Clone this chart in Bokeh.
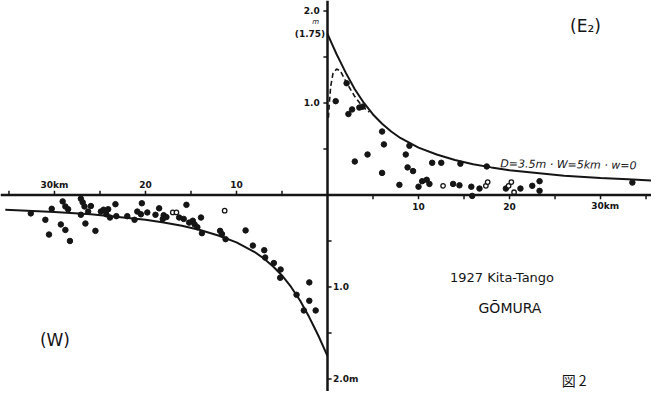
from bokeh.plotting import figure
from bokeh.models import Range1d, Label, Span
from bokeh.embed import file_html
from bokeh.resources import INLINE
from bokeh.core.properties import value

# ---------------- data (km, m) ----------------
# theoretical curve D=3.5m, W=5km, w=0
curve_e_x = [0, 0.5, 1, 1.5, 2, 3, 4, 5, 6, 7, 8, 10, 12, 14, 16, 18, 20, 23, 26, 30, 33, 36]
curve_e_y = [1.75, 1.64, 1.53, 1.43, 1.33, 1.15, 1.00, 0.875, 0.775, 0.69, 0.62, 0.515,
             0.44, 0.38, 0.335, 0.30, 0.27, 0.24, 0.21, 0.185, 0.17, 0.155]
curve_w_x = [0, -0.5, -1, -1.5, -2, -3, -4, -5, -6, -7, -8, -10, -12, -14, -16, -18, -20,
             -23, -26, -30, -33, -35.4]
curve_w_y = [-1.75, -1.64, -1.53, -1.43, -1.33, -1.15, -1.00, -0.875, -0.775, -0.69, -0.62,
             -0.515, -0.44, -0.38, -0.335, -0.30, -0.27, -0.24, -0.21, -0.185, -0.17, -0.16]
# dashed curve near the fault (east side)
dash_x = [0.1, 0.2, 0.35, 0.6, 1.0, 1.4, 2.1, 3.0, 3.85, 4.6]
dash_y = [0.84, 1.0, 1.18, 1.32, 1.37, 1.35, 1.22, 1.07, 0.96, 0.90]

# observed points, west side
w_x = [-32.6, -31.0, -30.6, -30.3, -29.3, -29.1, -28.8, -28.8, -28.5, -28.3, -27.1, -26.9,
       -26.7, -27.1, -26.6, -26.3, -26.0, -25.5, -24.9, -24.6, -24.3, -24.1, -23.9, -23.3,
       -23.2, -22.0, -21.2, -20.9, -20.4, -20.5, -19.8, -18.9, -18.5, -18.1, -18.0, -17.7,
       -16.3, -15.8, -15.5, -15.2, -14.8, -14.6, -14.3, -13.9, -13.8, -11.8, -11.6, -11.2,
       -9.0, -8.2, -6.95, -6.85, -5.9, -5.15, -5.2, -3.4, -2.0, -2.0, -2.6, -1.3]
w_y = [-0.20, -0.27, -0.43, -0.15, -0.32, -0.07, -0.125, -0.38, -0.155, -0.50, -0.04, -0.08,
       -0.125, -0.215, -0.31, -0.18, -0.12, -0.39, -0.18, -0.16, -0.21, -0.155, -0.245, -0.10,
       -0.23, -0.23, -0.27, -0.18, -0.09, -0.21, -0.19, -0.215, -0.145, -0.26, -0.22, -0.24,
       -0.245, -0.26, -0.107, -0.30, -0.28, -0.32, -0.35, -0.245, -0.415, -0.39, -0.425, -0.48,
       -0.385, -0.55, -0.60, -0.68, -0.74, -0.81, -0.90, -1.085, -0.95, -1.15, -1.255, -1.255]
w_open_x = [-17.0, -16.6, -11.3]
w_open_y = [-0.19, -0.19, -0.17]

# observed points, east side
e_x = [0.9, 2.3, 2.7, 3.5, 3.85, 2.1, 3.0, 4.4, 6.0, 6.2, 6.0, 7.9, 8.6, 9.0, 8.8, 9.4, 10.0,
       10.4, 10.9, 11.2, 11.5, 12.5, 13.8, 14.5, 14.6, 15.8, 15.9, 16.7, 17.5, 19.6, 21.2,
       22.5, 23.3, 23.3, 33.5]
e_y = [1.02, 0.88, 0.93, 0.95, 0.96, 1.215, 0.364, 0.44, 0.69, 0.55, 0.24, 0.11, 0.44, 0.535,
       0.30, 0.26, 0.09, 0.15, 0.165, 0.12, 0.35, 0.35, 0.12, 0.105, 0.34, 0.09, -0.01, 0.07,
       0.31, 0.07, 0.07, 0.10, 0.15, 0.045, 0.135]
e_open_x = [12.7, 17.4, 17.6, 19.9, 20.2, 20.5]
e_open_y = [0.10, 0.10, 0.14, 0.10, 0.14, 0.03]

# axis ticks / labels
x_ticks_w = [-35, -30, -25, -20, -15, -10, -5]
x_ticks_e = [5, 10, 15, 20, 25, 30, 35]
x_lab_w = [-30, -20, -10]
x_lab_w_txt = ["30km", "20", "10"]
x_lab_e = [10, 20, 30.5]
x_lab_e_txt = ["10", "20", "30km"]
y_ticks_up = [0.5, 1.0, 1.5, 2.0]
y_ticks_dn = [-0.5, -1.0, -1.5, -2.0]
y_lab_up = [2.0, 1.0]
y_lab_up_txt = ["2.0", "1.0"]
y_lab_dn = [-1.0, -2.0]
y_lab_dn_txt = ["1.0", "2.0m"]

INK = "#151515"

p = figure(width=651, height=391, x_range=Range1d(-35.93, 35.60), y_range=Range1d(-2.136, 2.114),
           output_backend="svg", toolbar_location=None, min_border=0,
           x_axis_type=None, y_axis_type=None)
p.outline_line_color = None
p.background_fill_color = "white"
p.border_fill_color = "white"

# cross axes
p.add_layout(Span(location=0, dimension="width", line_color=INK, line_width=2.5))
p.add_layout(Span(location=0, dimension="height", line_color=INK, line_width=2.5))

# ticks
tl_x = 0.45   # km
tl_y = 0.045  # m
p.segment(x0=x_ticks_w, y0=[0] * len(x_ticks_w), x1=x_ticks_w, y1=[tl_y] * len(x_ticks_w),
          line_color=INK, line_width=1.5)
p.segment(x0=x_ticks_e, y0=[0] * len(x_ticks_e), x1=x_ticks_e, y1=[-tl_y] * len(x_ticks_e),
          line_color=INK, line_width=1.5)
p.segment(x0=[0] * len(y_ticks_up), y0=y_ticks_up, x1=[-tl_x] * len(y_ticks_up), y1=y_ticks_up,
          line_color=INK, line_width=1.5)
p.segment(x0=[0] * len(y_ticks_dn), y0=y_ticks_dn, x1=[tl_x] * len(y_ticks_dn), y1=y_ticks_dn,
          line_color=INK, line_width=1.5)

tick_font = dict(text_font=value("DejaVu Sans"), text_font_size=value("9px"),
                 text_font_style="bold", text_color=INK)
p.text(x=x_lab_w, y=[0.11] * 3, text=x_lab_w_txt, text_align="center",
       text_baseline="middle", **tick_font)
p.text(x=x_lab_e, y=[-0.12] * 3, text=x_lab_e_txt, text_align="center",
       text_baseline="middle", **tick_font)
p.text(x=[-0.85] * 2, y=y_lab_up, text=y_lab_up_txt, text_align="right",
       text_baseline="middle", **tick_font)
p.text(x=[0.6] * 2, y=y_lab_dn, text=y_lab_dn_txt, text_align="left",
       text_baseline="middle", **tick_font)

# curves
p.line(curve_e_x, curve_e_y, line_color=INK, line_width=2)
p.line(curve_w_x, curve_w_y, line_color=INK, line_width=2)
p.line(dash_x, dash_y, line_color=INK, line_width=1.6, line_dash="5 3")

# points
p.scatter(w_x, w_y, size=5.5, fill_color=INK, line_color=INK)
p.scatter(e_x, e_y, size=5.5, fill_color=INK, line_color=INK)
p.scatter(w_open_x, w_open_y, size=4.5, fill_color="white", line_color=INK, line_width=1.3)
p.scatter(e_open_x, e_open_y, size=4.5, fill_color="white", line_color=INK, line_width=1.3)

# annotations
def lab(x, y, t, size, align="center", style="normal", font="DejaVu Sans", baseline="middle", angle=0):
    p.add_layout(Label(x=x, y=y, text=t, text_font=font, text_font_size=size,
                       text_align=align, text_baseline=baseline, text_font_style=style,
                       text_color=INK, angle=angle))

lab(-1.3, 1.875, "m", "7px", style="italic")
lab(-0.25, 1.75, "(1.75)", "9px", align="right", style="bold")
lab(28.35, 1.84, "(E\u2082)", "17px")
lab(-29.95, -1.58, "(W)", "17px")
lab(19.0, 0.34, "D=3.5m \u00b7 W=5km \u00b7 w=0", "11px", align="left", style="italic", angle=-0.015)
lab(19.4, -0.897, "1927  Kita-Tango", "13px")
lab(20.05, -1.223, "G\u014cMURA", "14px")
lab(27.1, -2.115, "\u56f3 2", "14px", font="Noto Sans CJK JP", baseline="bottom")

open("out.html", "w").write(file_html(p, INLINE))
